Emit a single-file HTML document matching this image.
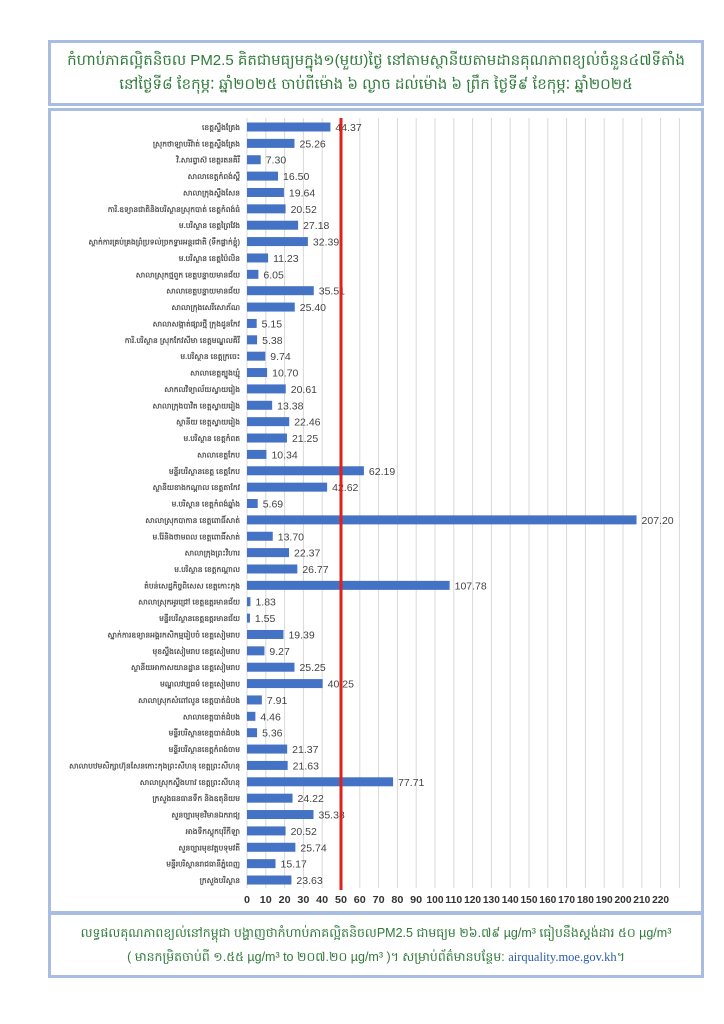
<!DOCTYPE html>
<html><head><meta charset="utf-8"><style>
body{margin:0;background:#fff;width:724px;height:1024px;overflow:hidden;font-family:"Liberation Sans",sans-serif}
.box{position:absolute;border:3px solid #a9bde3;box-sizing:border-box}
</style></head><body>
<div class="box" style="left:48px;top:40px;width:656px;height:66px;text-align:center;color:#2f7a3a;font-size:15px;line-height:24px;padding-top:6px">
កំហាប់ភាគល្អិតនិចល PM2.5 គិតជាមធ្យមក្នុង១(មួយ)ថ្ងៃ នៅតាមស្ថានីយតាមដានគុណភាពខ្យល់ចំនួន៤៧ទីតាំង<br>នៅថ្ងៃទី៨ ខែកុម្ភៈ ឆ្នាំ២០២៥ ចាប់ពីម៉ោង ៦ ល្ងាច ដល់ម៉ោង ៦ ព្រឹក ថ្ងៃទី៩ ខែកុម្ភៈ ឆ្នាំ២០២៥
</div>
<div class="box" style="left:48px;top:108px;width:656px;height:806px"></div>
<div class="box" style="left:48px;top:912px;width:656px;height:66px;text-align:center;color:#2f7a3a;font-size:12.5px;line-height:24px;padding-top:6px">
លទ្ធផលគុណភាពខ្យល់នៅកម្ពុជា បង្ហាញថាកំហាប់ភាគល្អិតនិចលPM2.5 ជាមធ្យម ២៦.៧៩ µg/m³ ធៀបនឹងស្តង់ដារ ៥០ µg/m³<br>( មានកម្រិតចាប់ពី ១.៥៥ µg/m³ to ២០៧.២០ µg/m³ )។ សម្រាប់ព័ត៌មានបន្ថែម: <span style="color:#2a5ea8;font-family:'Liberation Serif',serif">airquality.moe.gov.kh</span>។
</div>
<svg style="position:absolute;left:0;top:0" width="724" height="1024" id="s"></svg>
<script>
var d=[44.37,25.26,7.30,16.50,19.64,20.52,27.18,32.39,11.23,6.05,35.51,25.40,5.15,5.38,9.74,10.70,20.61,13.38,22.46,21.25,10.34,62.19,42.62,5.69,207.20,13.70,22.37,26.77,107.78,1.83,1.55,19.39,9.27,25.25,40.25,7.91,4.46,5.36,21.37,21.63,77.71,24.22,35.38,20.52,25.74,15.17,23.63];
var L=["ខេត្តស្ទឹងត្រែង","ស្រុកថាឡាបរិវ៉ាត់ ខេត្តស្ទឹងត្រែង","វិ.សារព្វាស៊ ខេត្តរតនគិរី","សាលាខេត្តកំពង់ស្ពឺ","សាលាក្រុងស្ទឹងសែន","ការិ.ឧទ្យានជាតិនិងបរិស្ថានស្រុកបាត់ ខេត្តកំពង់ធំ","ម.បរិស្ថាន ខេត្តព្រៃវែង","ស្ថាក់ការគ្រប់គ្រងព្រំប្រទល់ច្រកទ្វារអន្តរជាតិ (ទឹកផ្លាក់ខ្ពុំ)","ម.បរិស្ថាន ខេត្តប៉ៃលិន","សាលាស្រុកថ្មពួក ខេត្តបន្ទាយមានជ័យ","សាលាខេត្តបន្ទាយមានជ័យ","សាលាក្រុងសេរីសោភ័ណ","សាលាសង្កាត់ផ្សារថ្មី ក្រុងដូនកែវ","ការិ.បរិស្ថាន ស្រុកកែវសីមា ខេត្តមណ្ឌលគិរី","ម.បរិស្ថាន ខេត្តក្រចេះ","សាលាខេត្តត្បូងឃ្មុំ","សាកលវិទ្យាល័យស្វាយរៀង","សាលាក្រុងបាវិត ខេត្តស្វាយរៀង","ស្ថានីយ ខេត្តស្វាយរៀង","ម.បរិស្ថាន ខេត្តកំពត","សាលាខេត្តកែប","មន្ទីរបរិស្ថានខេត្ត ខេត្តកែប","ស្ថានីយខាងកណ្ដាល ខេត្តតាកែវ","ម.បរិស្ថាន ខេត្តកំពង់ឆ្នាំង","សាលាស្រុកបាកាន ខេត្តពោធិ៍សាត់","ម.រ៉ែនិងថាមពល ខេត្តពោធិ៍សាត់","សាលាក្រុងព្រះវិហារ","ម.បរិស្ថាន ខេត្តកណ្ដាល","តំបន់សេដ្ឋកិច្ចពិសេស ខេត្តកោះកុង","សាលាស្រុកអូរជ្រៅ ខេត្តឧត្តរមានជ័យ","មន្ទីរបរិស្ថានខេត្តឧត្តរមានជ័យ","ស្នាក់ការឧទ្យានអង្គរកសិកម្មរៀបចំ ខេត្តសៀមរាប","មុខស្ទឹងសៀមរាប ខេត្តសៀមរាប","ស្ថានីយអាកាសយានដ្ឋាន ខេត្តសៀមរាប","មណ្ឌលវប្បធម៌ ខេត្តសៀមរាប","សាលាស្រុកសំពៅលូន ខេត្តបាត់ដំបង","សាលាខេត្តបាត់ដំបង","មន្ទីរបរិស្ថានខេត្តបាត់ដំបង","មន្ទីរបរិស្ថានខេត្តកំពង់ចាម","សាលាបឋមសិក្សាហ៊ុនសែនកោះកុងព្រះសីហនុ ខេត្តព្រះសីហនុ","សាលាស្រុកស្ទឹងហាវ ខេត្តព្រះសីហនុ","ក្រសួងធនធានទឹក និងឧតុនិយម","សួនច្បារមុខវិមានឯករាជ្យ","អាងទឹកស្តុកបុរីកីឡា","សួនច្បារមុខវត្តបទុមវតី","មន្ទីរបរិស្ថានរាជធានីភ្នំពេញ","ក្រសួងបរិស្ថាន"];
var x0=247,k=1.88,y0=127,dy=16.37,h='';
for(var v=0;v<=230;v+=10){var x=x0+v*k;h+='<line x1="'+x+'" y1="118" x2="'+x+'" y2="888" stroke="#d9d9d9" stroke-width="1"/>';
if(v<=220)h+='<text x="'+x+'" y="903" font-size="10.5" font-weight="bold" fill="#333" text-anchor="middle" textLength="'+(v>=100?17:(v?12:6))+'" lengthAdjust="spacingAndGlyphs">'+v+'</text>';}
d.forEach(function(val,i){var y=y0+i*dy;h+='<rect x="'+x0+'" y="'+(y-4.5)+'" width="'+(val*k)+'" height="9" fill="#4472c4"/>';
h+='<text x="'+(x0+val*k+5)+'" y="'+(y+4)+'" font-size="10.5" fill="#444">'+val.toFixed(2)+'</text>';
h+='<text x="240" y="'+(y+3)+'" font-size="7.5" font-weight="bold" fill="#555" text-anchor="end">'+L[i]+'</text>';});
h+='<line x1="'+(x0+50*k)+'" y1="118" x2="'+(x0+50*k)+'" y2="890" stroke="#e0201b" stroke-width="3"/>';
document.getElementById('s').innerHTML=h;
</script>
</body></html>
